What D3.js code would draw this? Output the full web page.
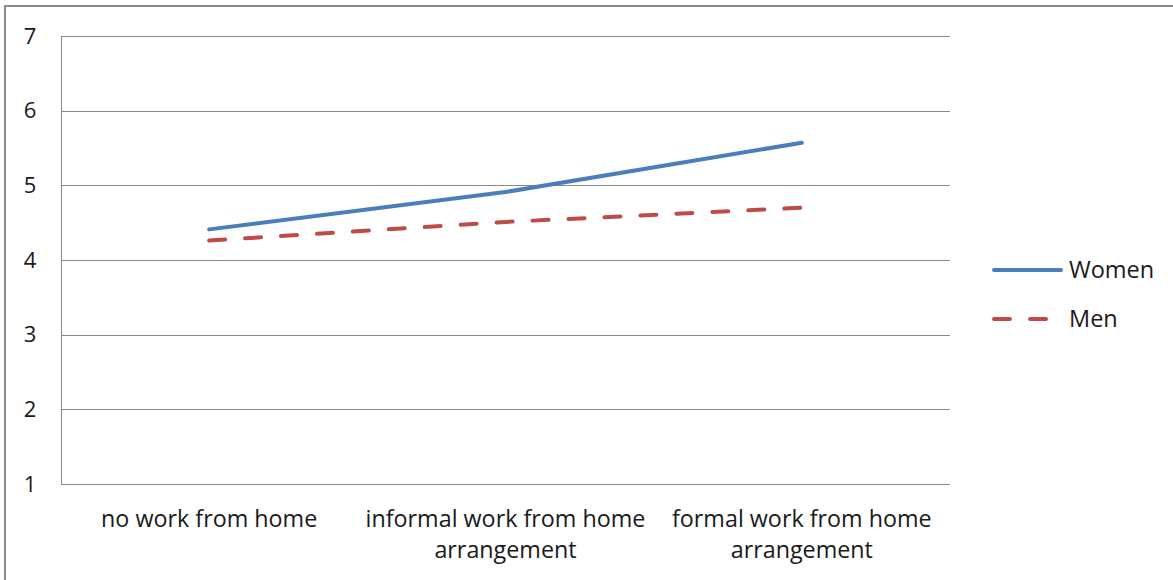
<!DOCTYPE html>
<html>
<head>
<meta charset="utf-8">
<script src="https://cdn.jsdelivr.net/npm/d3@7"></script>
<style>
  html, body { margin: 0; padding: 0; background: #fff; }
  svg { display: block; font-family: "Open Sans", "Liberation Sans", sans-serif; }
</style>
</head>
<body>
<svg id="chart" width="1173" height="580"></svg>
<script>
const categories = [
    ["no work from home"],
    ["informal work from home", "arrangement"],
    ["formal work from home", "arrangement"]
];
const women = [4.41, 4.91, 5.57];
const men = [4.26, 4.51, 4.70];
const yTicks = [1, 2, 3, 4, 5, 6, 7];
const seriesNames = ["Women", "Men"];

const plotLeft = 61, plotRight = 950, plotTop = 36, plotBottom = 484;
const gridColor = "#8a8a8a";
const textColor = "#1a1a1a";

const svg = d3.select("#chart");

// outer frame, runs off the right and bottom of the picture
svg.append("rect")
    .attr("x", 5).attr("y", 6)
    .attr("width", 1200).attr("height", 600)
    .attr("fill", "none")
    .attr("stroke", "#8c8c8c")
    .attr("stroke-width", 2);

const x = d3.scaleBand()
    .domain(d3.range(categories.length))
    .range([plotLeft, plotRight]);

const y = d3.scaleLinear()
    .domain([1, 7])
    .range([plotBottom, plotTop]);

// gridlines
svg.append("g")
    .selectAll("line")
    .data(yTicks)
    .join("line")
    .attr("x1", plotLeft).attr("x2", plotRight)
    .attr("y1", d => Math.round(y(d)) + 0.5)
    .attr("y2", d => Math.round(y(d)) + 0.5)
    .attr("stroke", gridColor)
    .attr("stroke-width", 1);

// left axis line
svg.append("line")
    .attr("x1", plotLeft + 0.5).attr("x2", plotLeft + 0.5)
    .attr("y1", plotTop).attr("y2", plotBottom + 1)
    .attr("stroke", gridColor);

// y tick labels
svg.append("g")
    .selectAll("text")
    .data(yTicks)
    .join("text")
    .attr("x", 30)
    .attr("y", d => y(d))
    .attr("dy", "0.35em")
    .attr("text-anchor", "middle")
    .attr("font-size", 22)
    .attr("fill", textColor)
    .text(d => d);

// category labels
const catLabels = svg.append("g")
    .selectAll("text")
    .data(categories)
    .join("text")
    .attr("x", (d, i) => x(i) + x.bandwidth() / 2)
    .attr("y", 527)
    .attr("text-anchor", "middle")
    .attr("font-size", 23.3)
    .attr("fill", textColor);

catLabels.selectAll("tspan")
    .data(d => d)
    .join("tspan")
    .attr("x", function () { return d3.select(this.parentNode).attr("x"); })
    .attr("dy", (d, i) => i === 0 ? 0 : 31)
    .text(d => d);

const line = d3.line()
    .x((d, i) => x(i) + x.bandwidth() / 2)
    .y(d => y(d));

svg.append("path")
    .datum(women)
    .attr("d", line)
    .attr("fill", "none")
    .attr("stroke", "#4a7ebb")
    .attr("stroke-width", 4)
    .attr("stroke-linecap", "round")
    .attr("stroke-linejoin", "round");

svg.append("path")
    .datum(men)
    .attr("d", line)
    .attr("fill", "none")
    .attr("stroke", "#be4b48")
    .attr("stroke-width", 4)
    .attr("stroke-linecap", "round")
    .attr("stroke-dasharray", "16,20");

// legend
const legend = svg.append("g");
const legendStyles = [
    { color: "#4a7ebb", dash: null },
    { color: "#be4b48", dash: "16,20" }
];
seriesNames.forEach((name, i) => {
    const ly = 270 + i * 49;
    legend.append("line")
        .attr("x1", 994).attr("x2", 1061)
        .attr("y1", ly).attr("y2", ly)
        .attr("stroke", legendStyles[i].color)
        .attr("stroke-width", 4)
        .attr("stroke-linecap", "round")
        .attr("stroke-dasharray", legendStyles[i].dash);
    legend.append("text")
        .attr("x", 1069)
        .attr("y", ly)
        .attr("dy", "0.35em")
        .attr("font-size", 23.5)
        .attr("fill", textColor)
        .text(name);
});
</script>
</body>
</html>
